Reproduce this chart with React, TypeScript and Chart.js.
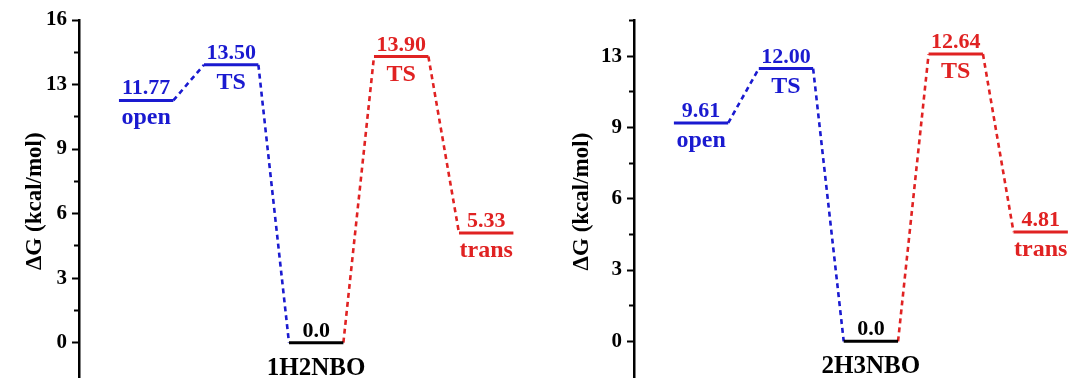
import React, { useEffect, useRef } from 'react';
import { Chart, registerables } from 'chart.js';

Chart.register(...registerables);

// ---- data ----
const stateNames = ['open', 'TS', '', 'TS', 'trans'];
const valuesA = [11.77, 13.5, 0.0, 13.9, 5.33];
const valueLabelsA = ['11.77', '13.50', '0.0', '13.90', '5.33'];
const valuesB = [9.61, 12.0, 0.0, 12.64, 4.81];
const valueLabelsB = ['9.61', '12.00', '0.0', '12.64', '4.81'];
const tickLabelsA = ['0', '3', '6', '9', '13', '16'];
const tickLabelsB = ['0', '3', '6', '9', '13'];
const systemA = '1H2NBO';
const systemB = '2H3NBO';
const yTitle = 'ΔG (kcal/mol)';

// ---- styles ----
const BLUE = '#1a1ad0';
const RED = '#e02222';
const BLACK = '#000000';
const levelColors = [BLUE, BLUE, BLACK, RED, RED];
const linkColors = [BLUE, BLUE, RED, RED];
const FONT = "'Liberation Serif', 'Times New Roman', serif";
const TICK_STEP = 3.135;
const HALF = 0.32;

type Panel = {
  values: number[];
  valueLabels: string[];
  tickLabels: string[];
  system: string;
  minorCount: number;
  yMin: number;
  yMax: number;
  xMax: number;
  padLeft: number;
  padTop: number;
  padRight: number;
  yWidth: number;
  left: number;
  width: number;
};

const panels: Panel[] = [
  {
    values: valuesA, valueLabels: valueLabelsA, tickLabels: tickLabelsA, system: systemA,
    minorCount: 10, yMin: -1.93, yMax: 5 * TICK_STEP, xMax: 4.5,
    padLeft: 17.2, padTop: 20, padRight: 7.3, yWidth: 61.8, left: 0, width: 536,
  },
  {
    values: valuesB, valueLabels: valueLabelsB, tickLabels: tickLabelsB, system: systemB,
    minorCount: 9, yMin: -1.81, yMax: 4.5 * TICK_STEP, xMax: 4.35,
    padLeft: 28.2, padTop: 20.7, padRight: 2.6, yWidth: 69.8, left: 536, width: 537,
  },
];

function buildDatasets(p: Panel) {
  const ds: any[] = [];
  p.values.forEach((v, i) => {
    ds.push({
      data: [{ x: i - HALF, y: v }, { x: i + HALF, y: v }],
      borderColor: levelColors[i],
      borderWidth: 3,
      pointRadius: 0,
      borderCapStyle: 'butt',
    });
  });
  for (let i = 0; i < p.values.length - 1; i++) {
    ds.push({
      data: [{ x: i + HALF, y: p.values[i] }, { x: i + 1 - HALF, y: p.values[i + 1] }],
      borderColor: linkColors[i],
      borderWidth: 2.6,
      borderDash: [5, 4],
      pointRadius: 0,
    });
  }
  return ds;
}

function PanelChart({ p }: { p: Panel }) {
  const ref = useRef<HTMLCanvasElement | null>(null);
  useEffect(() => {
    if (!ref.current) return;
    const textPlugin = {
      id: 'levelText',
      afterDatasetsDraw(chart: any) {
        const ctx = chart.ctx;
        const xs = chart.scales.x;
        const ys = chart.scales.y;
        ctx.save();
        ctx.textAlign = 'center';
        ctx.textBaseline = 'alphabetic';
        p.values.forEach((v, i) => {
          const x = xs.getPixelForValue(i);
          const y = ys.getPixelForValue(v);
          ctx.fillStyle = levelColors[i];
          ctx.font = `bold 22px ${FONT}`;
          ctx.fillText(p.valueLabels[i], x, y - 6);
          if (stateNames[i]) {
            ctx.font = `bold 24px ${FONT}`;
            ctx.fillText(stateNames[i], x, y + 24);
          }
        });
        ctx.fillStyle = BLACK;
        ctx.font = `bold 25px ${FONT}`;
        ctx.fillText(p.system, xs.getPixelForValue(2), ys.getPixelForValue(0) + 32);
        ctx.restore();
      },
    };
    const chart = new Chart(ref.current, {
      type: 'line',
      data: { datasets: buildDatasets(p) },
      options: {
        animation: false,
        responsive: false,
        devicePixelRatio: 1,
        layout: { padding: { left: p.padLeft, top: p.padTop, right: p.padRight, bottom: 0 } },
        plugins: { legend: { display: false }, tooltip: { enabled: false } },
        scales: {
          x: { type: 'linear', display: false, min: -0.79, max: p.xMax },
          y: {
            type: 'linear',
            min: p.yMin,
            max: p.yMax,
            afterBuildTicks: (scale: any) => {
              const t = [];
              for (let k = 0; k <= p.minorCount; k++) t.push({ value: (k * TICK_STEP) / 2 });
              scale.ticks = t;
            },
            afterFit: (scale: any) => {
              scale.width = p.yWidth;
            },
            ticks: {
              padding: 5,
              color: BLACK,
              font: { family: FONT, size: 21, weight: 'bold' },
              callback: (_v: any, index: number) => (index % 2 === 0 ? p.tickLabels[index / 2] : ''),
            },
            grid: {
              drawOnChartArea: false,
              drawTicks: true,
              tickLength: 7,
              tickWidth: 2,
              tickColor: BLACK,
              tickBorderDash: (c: any) => (c.index % 2 === 1 ? [0, 2, 20, 0] : []),
            },
            border: { display: true, color: BLACK, width: 2.5 },
            title: {
              display: true,
              text: yTitle,
              color: BLACK,
              font: { family: FONT, size: 23, weight: 'bold' },
              padding: { top: 4, bottom: 4 },
            },
          },
        },
      },
      plugins: [textPlugin],
    } as any);
    return () => chart.destroy();
  }, [p]);
  return (
    <canvas
      ref={ref}
      width={p.width}
      height={400}
      style={{ position: 'absolute', left: p.left, top: 0, width: p.width, height: 400 }}
    />
  );
}

export default function App() {
  useEffect(() => {
    document.body.style.margin = '0';
  }, []);
  return (
    <div
      style={{
        position: 'fixed', left: 0, top: 0, width: 1073, height: 378,
        overflow: 'hidden', background: '#ffffff',
      }}
    >
      {panels.map((p, i) => (
        <PanelChart key={i} p={p} />
      ))}
    </div>
  );
}
